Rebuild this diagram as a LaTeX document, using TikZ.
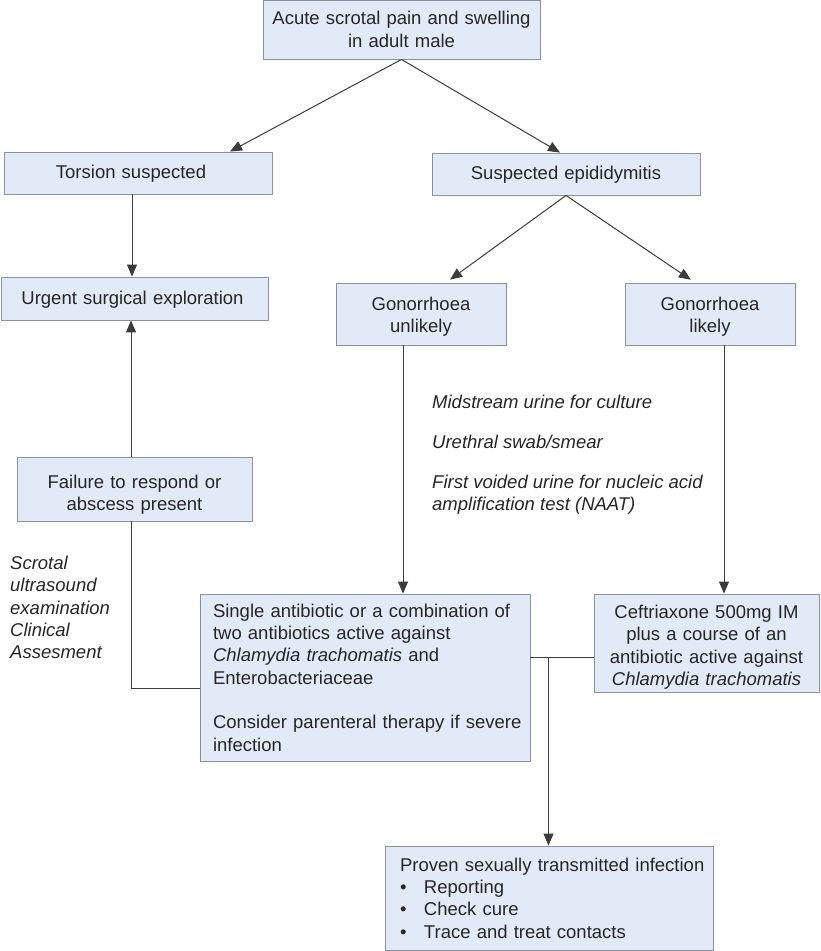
\documentclass[tikz,border=0pt]{standalone}
\usepackage{fontspec}
\setmainfont{Liberation Sans}
\usetikzlibrary{arrows.meta,calc}
\definecolor{boxfill}{RGB}{227,234,247}
\definecolor{boxline}{RGB}{140,146,155}
\definecolor{ink}{RGB}{38,38,38}
\definecolor{wirecol}{RGB}{60,60,60}
\begin{document}
\begin{tikzpicture}[x=1pt,y=-1pt,
 box/.style={draw=boxline, line width=0.9pt, fill=boxfill, inner xsep=0pt, inner ysep=0pt, text=ink, font=\fontsize{18.5}{22.3}\selectfont, align=center},
 oneline/.style={text height=15pt},
 wire/.style={draw=wirecol, line width=1pt},
 arr/.style={wire, -{Triangle[length=12pt,width=10pt]}},
 note/.style={anchor=west, inner sep=0pt, text=ink, font=\fontsize{18.5}{22.3}\selectfont\itshape, align=left}]
\fill[white] (0,0) rectangle (820,951);
\useasboundingbox (0,0) rectangle (820,951);

\node[box, minimum width=277pt, minimum height=59pt, text width=260pt] (top) at (401.5,29.5) {Acute scrotal pain and swelling\\in adult male};
\node[box, oneline, minimum width=268pt, minimum height=42pt, text width=250pt] (tors) at (138,173) {\hspace*{-14pt}Torsion suspected};
\node[box, oneline, minimum width=268pt, minimum height=42pt, text width=250pt] (epi) at (566,174) {Suspected epididymitis};
\node[box, oneline, minimum width=267pt, minimum height=43pt, text width=250pt] (urg) at (134.5,298.5) {\hspace*{-4pt}Urgent surgical exploration};
\node[box, minimum width=170pt, minimum height=62pt, text width=160pt] (gonu) at (421,314) {\rule{0pt}{19pt}Gonorrhoea\\unlikely};
\node[box, minimum width=170pt, minimum height=62pt, text width=160pt] (gonl) at (710,314) {\rule{0pt}{19pt}Gonorrhoea\\likely};
\node[box, minimum width=235pt, minimum height=64pt, text width=225pt] (fail) at (134.5,489) {\rule{0pt}{25pt}Failure to respond or\\abscess present};
\node[box, minimum width=330pt, minimum height=167pt, text width=304pt, align=left] (single) at (365,677.5) {\mbox{Single antibiotic or a combination of}\\\mbox{two antibiotics active against}\\\mbox{\textit{Chlamydia trachomatis} and}\\\mbox{Enterobacteriaceae}\\[22.3pt]\mbox{Consider parenteral therapy if severe}\\\mbox{infection}};
\node[box, minimum width=225pt, minimum height=98pt, text width=215pt] (ceft) at (706.5,643) {\rule{0pt}{22pt}Ceftriaxone 500mg IM\\plus a course of an\\antibiotic active against\\\textit{Chlamydia trachomatis}};
\node[box, minimum width=328pt, minimum height=104pt, text width=298pt, align=left] (prov) at (549,898) {\mbox{Proven sexually transmitted infection}\\\mbox{\makebox[24pt][l]{•}Reporting}\\\mbox{\makebox[24pt][l]{•}Check cure}\\\mbox{\makebox[24pt][l]{•}Trace and treat contacts}};

\node[note] (n1) at (432,402) {Midstream urine for culture};
\node[note] (n2) at (432,442) {Urethral swab/smear};
\node[note] (n3) at (432,494.5) {First voided urine for nucleic acid\\amplification test (NAAT)};
\node[note] (n4) at (10,607.5) {Scrotal\\ultrasound\\examination\\Clinical\\Assesment};

\draw[arr] (top.south) -- ([xshift=92pt]tors.north);
\draw[arr] (top.south) -- ([xshift=-6pt]epi.north);
\draw[arr] ([xshift=-6pt]tors.south) -- ([xshift=-6pt]tors.south |- urg.north);
\draw[arr, shorten >=5pt] (epi.south) -- ([xshift=25pt]gonu.north);
\draw[arr, shorten >=5pt] (epi.south) -- ([xshift=-15pt]gonl.north);
\draw[arr] ([xshift=-18pt]gonu.south) -- ([xshift=-18pt]gonu.south |- single.north);
\draw[arr] ([xshift=14pt]gonl.south) -- ([xshift=14pt]gonl.south |- ceft.north);
\coordinate (J) at (548.5,657);
\draw[wire] (single.east |- J) -- (ceft.west |- J);
\draw[arr] (J) -- (J |- prov.north);
\coordinate (K) at (131,688);
\draw[wire] (single.west |- K) -- (K) -- (K |- fail.south);
\draw[arr] (K |- fail.north) -- (K |- urg.south);
\end{tikzpicture}
\end{document}
